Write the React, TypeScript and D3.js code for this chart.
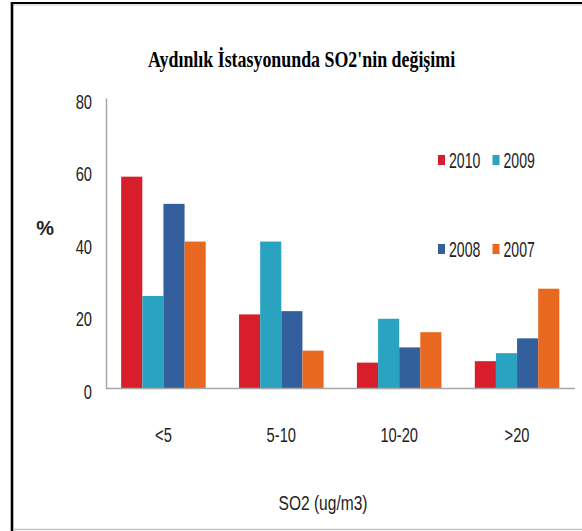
import { useEffect, useRef } from 'react'
import * as d3 from 'd3'

const categories = ['<5', '5-10', '10-20', '>20']
const years = ['2010', '2009', '2008', '2007']
const values2010 = [58.3, 20.3, 7.0, 7.4]
const values2009 = [25.4, 40.4, 19.1, 9.6]
const values2008 = [50.8, 21.2, 11.2, 13.7]
const values2007 = [40.4, 10.3, 15.4, 27.4]
const yTicks = [0, 20, 40, 60, 80]
const colors = ['#d81e2b', '#2aa3c0', '#33609c', '#e8681f']

const W = 582
const H = 531
const FONT = "'Liberation Sans', Arial, sans-serif"

export default function App() {
  const ref = useRef<SVGSVGElement | null>(null)

  useEffect(() => {
    const svg = d3.select(ref.current)
    svg.selectAll('*').remove()

    const series = [values2010, values2009, values2008, values2007]
    const rows = categories.map((c, i) => ({
      cat: c,
      vals: years.map((y, j) => ({ year: y, value: series[j][i], color: colors[j] }))
    }))

    const x = d3.scaleBand().domain(categories).range([104.5, 576]).paddingInner(0.283).paddingOuter(0.1415)
    const x1 = d3.scaleBand().domain(years).range([0, x.bandwidth()])
    const y = d3.scaleLinear().domain([0, 80]).range([388, 98])

    // frame
    svg.append('rect').attr('width', W).attr('height', H).attr('fill', '#fff')
    svg.append('line').attr('x1', 11).attr('x2', W).attr('y1', 3).attr('y2', 3)
      .attr('stroke', '#000').attr('stroke-width', 2.2)
    svg.append('line').attr('x1', 13).attr('x2', W).attr('y1', 5).attr('y2', 5)
      .attr('stroke', '#ccc').attr('stroke-width', 1)
    svg.append('line').attr('x1', 12).attr('x2', 12).attr('y1', 2).attr('y2', H)
      .attr('stroke', '#000').attr('stroke-width', 2.6)
    svg.append('line').attr('x1', 13).attr('x2', W).attr('y1', 529.5).attr('y2', 529.5)
      .attr('stroke', '#c4c4c4').attr('stroke-width', 1.5)

    // title
    svg.append('text')
      .attr('transform', 'translate(148,67) scale(0.745,1)')
      .style('font-family', "'Liberation Serif', 'Times New Roman', serif")
      .style('font-weight', 'bold').style('font-size', '24px')
      .text("Aydınlık İstasyonunda  SO2'nin  değişimi")

    // bars
    const g = svg.append('g')
    g.selectAll('g.grp')
      .data(rows)
      .enter().append('g')
      .attr('class', 'grp')
      .attr('transform', d => `translate(${x(d.cat)},0)`)
      .selectAll('rect')
      .data(d => d.vals)
      .enter().append('rect')
      .attr('x', d => x1(d.year) as number)
      .attr('width', x1.bandwidth())
      .attr('y', d => y(d.value))
      .attr('height', d => y(0) - y(d.value))
      .attr('fill', d => d.color)

    // y axis
    const yAxis = svg.append('g')
      .attr('transform', 'translate(106,0)')
      .call(d3.axisLeft(y).tickValues(yTicks).tickSize(0).tickPadding(0))
    yAxis.select('.domain').attr('stroke', '#a6a6a6').attr('stroke-width', 1.5)
    yAxis.selectAll('.tick text')
      .attr('x', 0).attr('dy', null)
      .attr('transform', 'translate(-14,10) scale(0.7,1)')
      .style('font-family', FONT).style('font-size', '21px').attr('fill', '#222')

    // x axis
    const xAxis = svg.append('g')
      .attr('transform', 'translate(0,388.5)')
      .call(d3.axisBottom(x).tickSize(0).tickPadding(0))
    xAxis.select('.domain').attr('d', 'M106,0H575').attr('stroke', '#a6a6a6').attr('stroke-width', 1.5)
    xAxis.selectAll('.tick text')
      .attr('y', 0).attr('dy', null)
      .attr('transform', 'translate(0,53) scale(0.7,1)')
      .style('font-family', FONT).style('font-size', '21px').attr('fill', '#222')

    // axis titles
    svg.append('text')
      .attr('transform', 'translate(323,510) scale(0.74,1)')
      .attr('text-anchor', 'middle')
      .style('font-family', FONT).style('font-size', '21px').attr('fill', '#222')
      .text('SO2 (ug/m3)')
    svg.append('text')
      .attr('transform', 'translate(45,235) scale(0.95,1)')
      .attr('text-anchor', 'middle')
      .style('font-family', FONT).style('font-size', '21px').style('font-weight', 'bold').attr('fill', '#222')
      .text('%')

    // legend
    const legendPos = [
      { x: 438, y: 168 },
      { x: 492.5, y: 168 },
      { x: 438, y: 257 },
      { x: 492.5, y: 257 }
    ]
    const lg = svg.append('g')
    years.forEach((yr, i) => {
      const p = legendPos[i]
      lg.append('rect').attr('x', p.x).attr('y', p.y - 13).attr('width', 7).attr('height', 10)
        .attr('fill', colors[i])
      lg.append('text')
        .attr('transform', `translate(${p.x + 11},${p.y}) scale(0.64,1)`)
        .style('font-family', FONT).style('font-size', '22px').attr('fill', '#222')
        .text(yr)
    })
  }, [])

  return (
    <svg ref={ref} width={W} height={H} style={{ position: 'absolute', left: 0, top: 0 }} />
  )
}
